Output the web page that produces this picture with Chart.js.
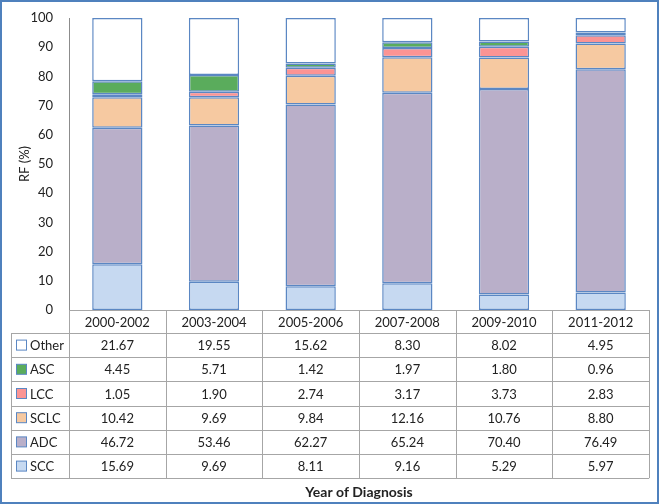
<!DOCTYPE html>
<html>
<head>
<meta charset="utf-8">
<script src="https://cdn.jsdelivr.net/npm/chart.js@4/dist/chart.umd.min.js"></script>
<style>
  html, body { margin: 0; padding: 0; background: #fff; }
  #wrap { width: 659px; height: 504px; }
</style>
</head>
<body>
<div id="wrap"><canvas id="rfChart" width="659" height="504"></canvas></div>
<script>
// categories (year of diagnosis)
const years = ['2000-2002', '2003-2004', '2005-2006', '2007-2008', '2009-2010', '2011-2012'];

// series values, RF (%)
const scc   = [15.69, 9.69, 8.11, 9.16, 5.29, 5.97];
const adc   = [46.72, 53.46, 62.27, 65.24, 70.40, 76.49];
const sclc  = [10.42, 9.69, 9.84, 12.16, 10.76, 8.80];
const lcc   = [1.05, 1.90, 2.74, 3.17, 3.73, 2.83];
const asc   = [4.45, 5.71, 1.42, 1.97, 1.80, 0.96];
const other = [21.67, 19.55, 15.62, 8.30, 8.02, 4.95];

const yTicks = [0, 10, 20, 30, 40, 50, 60, 70, 80, 90, 100];

const FONT = 'Lato, "Open Sans", sans-serif';
const barBorder = '#5b87c3';

// stacking order bottom -> top
const datasets = [
  { label: 'SCC',   data: scc,   backgroundColor: '#c6d9f1' },
  { label: 'ADC',   data: adc,   backgroundColor: '#b9afc9' },
  { label: 'SCLC',  data: sclc,  backgroundColor: '#f6c9a1' },
  { label: 'LCC',   data: lcc,   backgroundColor: '#fb9494' },
  { label: 'ASC',   data: asc,   backgroundColor: '#5aac5c' },
  { label: 'Other', data: other, backgroundColor: '#ffffff' }
].map(d => Object.assign(d, {
  borderColor: barBorder,
  borderWidth: 1.5,
  borderSkipped: false,
  barPercentage: 0.52,
  categoryPercentage: 1
}));

// draws the data table under the plot, the x axis line and the frame
const tablePlugin = {
  id: 'dataTable',
  afterDraw(chart) {
    const ctx = chart.ctx;
    const area = chart.chartArea;
    const xs = chart.scales.x;
    const left = area.left, right = area.right, top = area.bottom;
    const colW = (right - left) / years.length;
    const headH = 23, rowH = 24.2;
    const legendLeft = 11;
    const rows = datasets.slice().reverse();
    const tableBottom = top + headH + rows.length * rowH;

    ctx.save();
    ctx.strokeStyle = '#a6a6a6';
    ctx.lineWidth = 1;

    // x axis / header top
    ctx.beginPath();
    ctx.moveTo(left, top + 0.5);
    ctx.lineTo(right, top + 0.5);
    ctx.stroke();

    // horizontal row lines
    for (let i = 0; i <= rows.length; i++) {
      const y = Math.round(top + headH + i * rowH) + 0.5;
      ctx.beginPath();
      ctx.moveTo(legendLeft, y);
      ctx.lineTo(right, y);
      ctx.stroke();
    }
    // vertical lines
    for (let i = 0; i <= years.length; i++) {
      const x = Math.round(left + i * colW) + 0.5;
      ctx.beginPath();
      ctx.moveTo(x, top);
      ctx.lineTo(x, tableBottom);
      ctx.stroke();
    }
    ctx.beginPath();
    ctx.moveTo(legendLeft + 0.5, top + headH);
    ctx.lineTo(legendLeft + 0.5, tableBottom);
    ctx.stroke();

    // header labels
    ctx.fillStyle = '#222';
    ctx.font = '13px ' + FONT;
    ctx.textAlign = 'center';
    ctx.textBaseline = 'middle';
    years.forEach((yr, i) => {
      ctx.fillText(yr, xs.getPixelForValue(i), top + headH / 2 + 1);
    });

    // data rows
    rows.forEach((ds, r) => {
      const cy = top + headH + r * rowH + rowH / 2 + 1;
      ctx.fillStyle = ds.backgroundColor;
      ctx.fillRect(16.5, cy - 6, 10, 10);
      ctx.strokeStyle = barBorder;
      ctx.strokeRect(16.5, cy - 6, 10, 10);
      ctx.fillStyle = '#222';
      ctx.textAlign = 'left';
      ctx.fillText(ds.label, 30, cy);
      ctx.textAlign = 'center';
      ds.data.forEach((v, i) => {
        ctx.fillText(v.toFixed(2), xs.getPixelForValue(i), cy);
      });
    });

    // axis title
    ctx.font = 'bold 14px ' + FONT;
    ctx.fillText('Year of Diagnosis', (left + right) / 2, 492);

    // outer frame
    ctx.strokeStyle = '#4f81bd';
    ctx.lineWidth = 2;
    ctx.strokeRect(1, 1, chart.width - 2, chart.height - 2);
    ctx.restore();
  }
};

new Chart(document.getElementById('rfChart'), {
  type: 'bar',
  data: { labels: years, datasets: datasets },
  plugins: [tablePlugin],
  options: {
    responsive: false,
    animation: false,
    layout: { padding: { top: 18, right: 10, bottom: 194, left: 0 } },
    plugins: {
      legend: { display: false },
      tooltip: { enabled: false }
    },
    scales: {
      x: {
        stacked: true,
        display: false
      },
      y: {
        stacked: true,
        min: 0,
        max: 100,
        afterBuildTicks: scale => { scale.ticks = yTicks.map(v => ({ value: v })); },
        afterFit: scale => { scale.width = 69; },
        grid: { display: false },
        border: { display: true, color: '#8c8c8c', width: 1 },
        ticks: {
          color: '#222',
          padding: 8,
          font: { family: FONT, size: 13 }
        },
        title: {
          display: true,
          text: 'RF (%)',
          color: '#222',
          padding: { top: 17, bottom: 0 },
          font: { family: FONT, size: 13 }
        }
      }
    }
  }
});
</script>
</body>
</html>
